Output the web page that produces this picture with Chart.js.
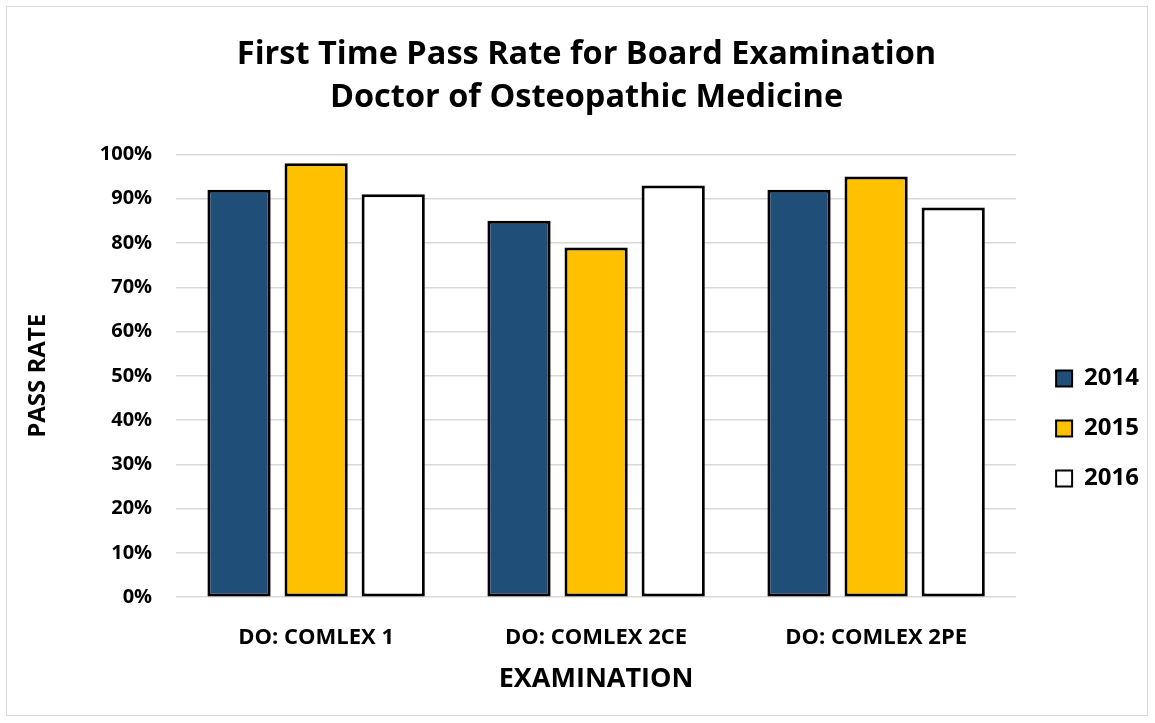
<!DOCTYPE html>
<html>
<head>
<meta charset="utf-8">
<script src="https://cdn.jsdelivr.net/npm/chart.js@4/dist/chart.umd.min.js"></script>
<style>
  html, body { margin: 0; padding: 0; background: #fff; }
  #frame {
    position: absolute; left: 6px; top: 6px;
    width: 1140px; height: 708px;
    border: 1.5px solid #d9d9d9;
  }
  #wrap { position: absolute; left: 0; top: 0; width: 1155px; height: 723px; }
</style>
</head>
<body>
<div id="frame"></div>
<div id="wrap"><canvas id="chart" width="1155" height="723"></canvas></div>
<script>
// Datos del gráfico
const categories = ['DO: COMLEX 1', 'DO: COMLEX 2CE', 'DO: COMLEX 2PE'];
const years = ['2014', '2015', '2016'];
const rates2014 = [92, 85, 92];
const rates2015 = [98, 79, 95];
const rates2016 = [91, 93, 88];
const yTicks = [0, 10, 20, 30, 40, 50, 60, 70, 80, 90, 100];

const fontFamily = '"Open Sans", Lato, sans-serif';

function makeDataset(label, data, color) {
    return {
        label: label,
        data: data,
        backgroundColor: color,
        borderColor: '#000',
        borderWidth: 3,
        borderSkipped: false,
        categoryPercentage: 0.826,
        barPercentage: 0.82
    };
}

// Mover leyenda y título un poco (como en el original)
const boxShift = {
    id: 'boxShift',
    afterLayout(chart) {
        const lg = chart.legend;
        if (lg) {
            lg.left += 14; lg.right += 14;
            lg.top += 62; lg.bottom += 62;
        }
        const tb = chart.titleBlock;
        if (tb) {
            tb.left += 9; tb.right += 9;
        }
    }
};

const ctx = document.getElementById('chart').getContext('2d');

new Chart(ctx, {
    type: 'bar',
    data: {
        labels: categories,
        datasets: [
            makeDataset(years[0], rates2014, '#1f4e79'),
            makeDataset(years[1], rates2015, '#ffc000'),
            makeDataset(years[2], rates2016, '#ffffff')
        ]
    },
    plugins: [boxShift],
    options: {
        responsive: false,
        animation: false,
        layout: {
            padding: { left: 20, right: 20, top: 33, bottom: 23 }
        },
        plugins: {
            title: {
                display: true,
                text: ['First Time Pass Rate for Board Examination', 'Doctor of Osteopathic Medicine'],
                color: '#000',
                font: { family: fontFamily, size: 32.5, weight: 'bold', lineHeight: 1.33 },
                padding: { top: 0, bottom: 35 }
            },
            legend: {
                position: 'right',
                labels: {
                    color: '#000',
                    font: { family: fontFamily, size: 24, weight: 'bold' },
                    boxWidth: 16,
                    boxHeight: 16,
                    padding: 26,
                    generateLabels: function(chart) {
                        return chart.data.datasets.map((ds, i) => ({
                            text: ds.label,
                            fillStyle: ds.backgroundColor,
                            strokeStyle: '#000',
                            lineWidth: 2,
                            datasetIndex: i,
                            fontColor: '#000'
                        }));
                    }
                }
            },
            tooltip: { enabled: false }
        },
        scales: {
            x: {
                grid: { display: false, drawTicks: false },
                border: { display: false },
                ticks: {
                    color: '#000',
                    padding: 27,
                    font: { family: fontFamily, size: 22, weight: 'bold' }
                },
                title: {
                    display: true,
                    text: 'EXAMINATION',
                    color: '#000',
                    font: { family: fontFamily, size: 27, weight: 'bold' },
                    padding: { top: -14, bottom: 4 }
                }
            },
            y: {
                min: 0,
                max: 100,
                afterBuildTicks: function(axis) {
                    axis.ticks = yTicks.map(v => ({ value: v }));
                },
                grid: { color: '#d9d9d9', lineWidth: 1.5, drawTicks: false },
                border: { display: false },
                ticks: {
                    color: '#000',
                    padding: 24,
                    font: { family: fontFamily, size: 20, weight: 'bold' },
                    callback: v => v + '%'
                },
                title: {
                    display: true,
                    text: 'PASS RATE',
                    color: '#000',
                    font: { family: fontFamily, size: 24, weight: 'bold' },
                    padding: { top: 4, bottom: 23 }
                }
            }
        }
    }
});
</script>
</body>
</html>
